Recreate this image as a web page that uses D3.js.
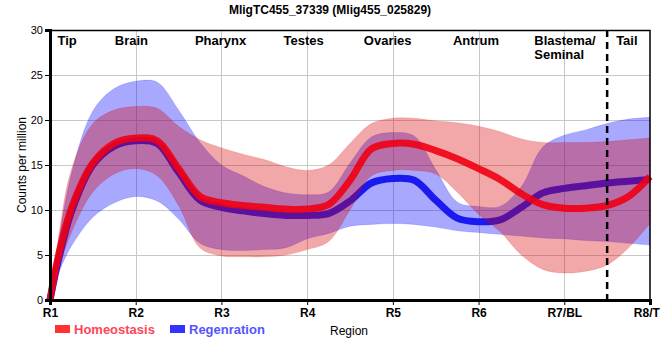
<!DOCTYPE html>
<html>
<head>
<meta charset="utf-8">
<script src="https://cdn.jsdelivr.net/npm/d3@7"></script>
<style>
  body { margin: 0; background: #fff; }
  svg { font-family: "Liberation Sans", Arial, sans-serif; }
</style>
</head>
<body>
<div id="chart"></div>
<script>
const pos = [1, 1.1, 1.25, 1.5, 1.75, 2, 2.25, 2.5, 2.75, 3, 3.25, 3.5, 3.75, 4, 4.25, 4.5, 4.75, 5, 5.25, 5.5, 5.75, 6, 6.25, 6.5, 6.75, 7, 7.25, 7.5, 7.75, 8];

const homeoMean  = [0, 5.0, 10.2, 15.2, 17.4, 18.0, 17.7, 14.6, 11.5, 10.8, 10.5, 10.3, 10.1, 10.1, 10.6, 13.3, 16.8, 17.4, 17.3, 16.6, 15.7, 14.6, 13.4, 11.8, 10.6, 10.2, 10.2, 10.5, 11.5, 13.7];
const homeoUpper = [0, 7.0, 14.5, 19.6, 21.1, 21.5, 21.3, 19.3, 17.8, 16.9, 16.2, 15.6, 14.8, 14.4, 15.0, 17.4, 19.6, 20.2, 20.2, 19.9, 19.7, 19.3, 18.7, 17.9, 17.5, 17.5, 17.5, 17.6, 17.8, 18.0];
const homeoLower = [0, 3.5, 7.5, 12.0, 14.0, 14.6, 13.8, 10.5, 5.8, 4.9, 4.8, 4.8, 5.0, 5.6, 6.5, 10.0, 13.8, 14.4, 14.4, 14.0, 12.0, 9.5, 7.6, 5.0, 3.4, 3.0, 3.2, 3.9, 5.8, 8.5];

const regenMean  = [0, 4.5, 9.8, 15.0, 17.1, 17.7, 17.4, 14.2, 11.1, 10.3, 9.9, 9.6, 9.4, 9.4, 9.6, 11.0, 13.0, 13.5, 13.3, 11.1, 9.1, 8.7, 8.9, 10.3, 11.9, 12.4, 12.7, 13.0, 13.2, 13.4];
const regenUpper = [0, 6.5, 14.0, 21.0, 23.5, 24.3, 24.2, 21.1, 17.5, 15.0, 13.8, 12.6, 11.9, 11.7, 12.0, 15.2, 18.1, 18.6, 18.2, 14.5, 10.9, 10.4, 10.4, 12.6, 17.0, 18.3, 18.9, 19.6, 20.1, 20.3];
const regenLower = [0, 3.0, 6.0, 9.2, 10.8, 11.5, 11.0, 9.0, 6.3, 5.6, 5.5, 5.6, 5.8, 6.8, 7.4, 8.2, 8.4, 8.5, 8.4, 8.1, 7.7, 7.5, 7.3, 7.1, 6.9, 6.8, 6.6, 6.5, 6.3, 6.1];

const tickLabels = ["R1", "R2", "R3", "R4", "R5", "R6", "R7/BL", "R8/TL"];
const yTicks = [0, 5, 10, 15, 20, 25, 30];
const regionNames = [
  {pos: 1.2, lines: ["Tip"]},
  {pos: 1.95, lines: ["Brain"]},
  {pos: 2.99, lines: ["Pharynx"]},
  {pos: 3.96, lines: ["Testes"]},
  {pos: 4.94, lines: ["Ovaries"]},
  {pos: 5.97, lines: ["Antrum"]},
  {pos: 6.65, lines: ["Blastema/", "Seminal"], anchor: "start"},
  {pos: 7.73, lines: ["Tail"]}
];
const tailStart = 7.5;

const W = 660, H = 360;
const margin = {top: 30, right: 10, bottom: 60, left: 50};

const svg = d3.select("#chart").append("svg")
  .attr("width", W).attr("height", H);

const x = d3.scaleLinear().domain([1, 8]).range([margin.left, W - margin.right]);
const y = d3.scaleLinear().domain([0, 30]).range([H - margin.bottom, margin.top]);

// title
svg.append("text")
  .attr("x", 330).attr("y", 14)
  .attr("text-anchor", "middle")
  .attr("font-size", 12).attr("font-weight", "bold")
  .text("MligTC455_37339 (Mlig455_025829)");

// grid
const grid = svg.append("g").attr("stroke", "#c8c8c8").attr("stroke-width", 1);
grid.selectAll("line.h").data(yTicks.slice(1, -1)).enter().append("line")
  .attr("x1", x(1)).attr("x2", x(8))
  .attr("y1", d => y(d) + 0.5).attr("y2", d => y(d) + 0.5);
grid.selectAll("line.v").data(d3.range(2, 8)).enter().append("line")
  .attr("x1", d => Math.round(x(d)) + 0.5).attr("x2", d => Math.round(x(d)) + 0.5)
  .attr("y1", y(30)).attr("y2", y(0));

const pts = arr => arr.map((v, i) => [pos[i], v]);

const area = d3.area()
  .x((d, i) => x(pos[i]))
  .y0(d => y(d[0]))
  .y1(d => y(d[1]))
  .curve(d3.curveCatmullRom.alpha(0.5));

const line = d3.line()
  .x(d => x(d[0]))
  .y(d => y(d[1]))
  .curve(d3.curveCatmullRom.alpha(0.5));

const plot = svg.append("g");

// regeneration band + line
plot.append("path")
  .datum(regenLower.map((v, i) => [v, regenUpper[i]]))
  .attr("d", area)
  .attr("fill", "rgb(0,0,255)").attr("fill-opacity", 0.34)
  .attr("stroke", "rgb(0,0,255)").attr("stroke-opacity", 0.15);

plot.append("path")
  .datum(pts(regenMean))
  .attr("d", line)
  .attr("fill", "none")
  .attr("stroke", "#1a1aee").attr("stroke-width", 7);

// homeostasis band + line
plot.append("path")
  .datum(homeoLower.map((v, i) => [v, homeoUpper[i]]))
  .attr("d", area)
  .attr("fill", "rgb(216,0,0)").attr("fill-opacity", 0.34)
  .attr("stroke", "rgb(216,0,0)").attr("stroke-opacity", 0.15);

plot.append("path")
  .datum(pts(homeoMean))
  .attr("d", line)
  .attr("fill", "none")
  .attr("stroke", "rgb(240,0,20)").attr("stroke-opacity", 0.9).attr("stroke-width", 7);

// frame (top and right)
svg.append("rect")
  .attr("x", x(1)).attr("y", y(30) + 0.5)
  .attr("width", x(8) - x(1)).attr("height", y(0) - y(30))
  .attr("fill", "none").attr("stroke", "#000").attr("stroke-width", 1.5);

// tail separator
svg.append("line")
  .attr("x1", x(tailStart)).attr("x2", x(tailStart))
  .attr("y1", y(30)).attr("y2", y(0))
  .attr("stroke", "#000").attr("stroke-width", 2.5)
  .attr("stroke-dasharray", "7,5");

// axes
const yAxis = svg.append("g")
  .attr("transform", `translate(${x(1)},0)`)
  .call(d3.axisLeft(y).tickValues(yTicks).tickSize(5).tickPadding(2));
yAxis.select(".domain").attr("stroke-width", 3);
yAxis.selectAll("text").attr("font-size", 11).attr("font-family", "Liberation Sans, Arial, sans-serif").attr("fill", "#000");

const xAxis = svg.append("g")
  .attr("transform", `translate(0,${y(0)})`)
  .call(d3.axisBottom(x).tickValues(d3.range(1, 9)).tickFormat((d, i) => tickLabels[i]).tickSize(5).tickPadding(3));
xAxis.select(".domain").attr("stroke-width", 3);
xAxis.selectAll("text").attr("font-size", 12).attr("font-weight", "bold")
  .attr("font-family", "Liberation Sans, Arial, sans-serif").attr("fill", "#000");

// axis titles
svg.append("text")
  .attr("transform", `translate(26,${(y(0) + y(30)) / 2}) rotate(-90)`)
  .attr("text-anchor", "middle")
  .attr("font-size", 12)
  .text("Counts per million");

svg.append("text")
  .attr("x", 330).attr("y", 335)
  .attr("font-size", 12)
  .text("Region");

// region names
regionNames.forEach(r => {
  const t = svg.append("text")
    .attr("x", x(r.pos)).attr("y", 45)
    .attr("text-anchor", r.anchor || "middle")
    .attr("font-size", 13).attr("font-weight", "bold");
  r.lines.forEach((l, i) => {
    t.append("tspan").attr("x", x(r.pos)).attr("dy", i === 0 ? 0 : 14).text(l);
  });
});

// legend
const legend = [
  {name: "Homeostasis", swatch: "#ff3333", text: "#ff4455"},
  {name: "Regenration", swatch: "#3333ff", text: "#5555ff"}
];
const lg = svg.append("g").attr("transform", "translate(55,330)");
let lx = 0;
legend.forEach(l => {
  lg.append("rect").attr("x", lx).attr("y", -5).attr("width", 15).attr("height", 8).attr("fill", l.swatch);
  const t = lg.append("text").attr("x", lx + 19).attr("y", 4)
    .attr("font-size", 13).attr("font-weight", "bold").attr("fill", l.text).text(l.name);
  lx += 115;
});
</script>
</body>
</html>
